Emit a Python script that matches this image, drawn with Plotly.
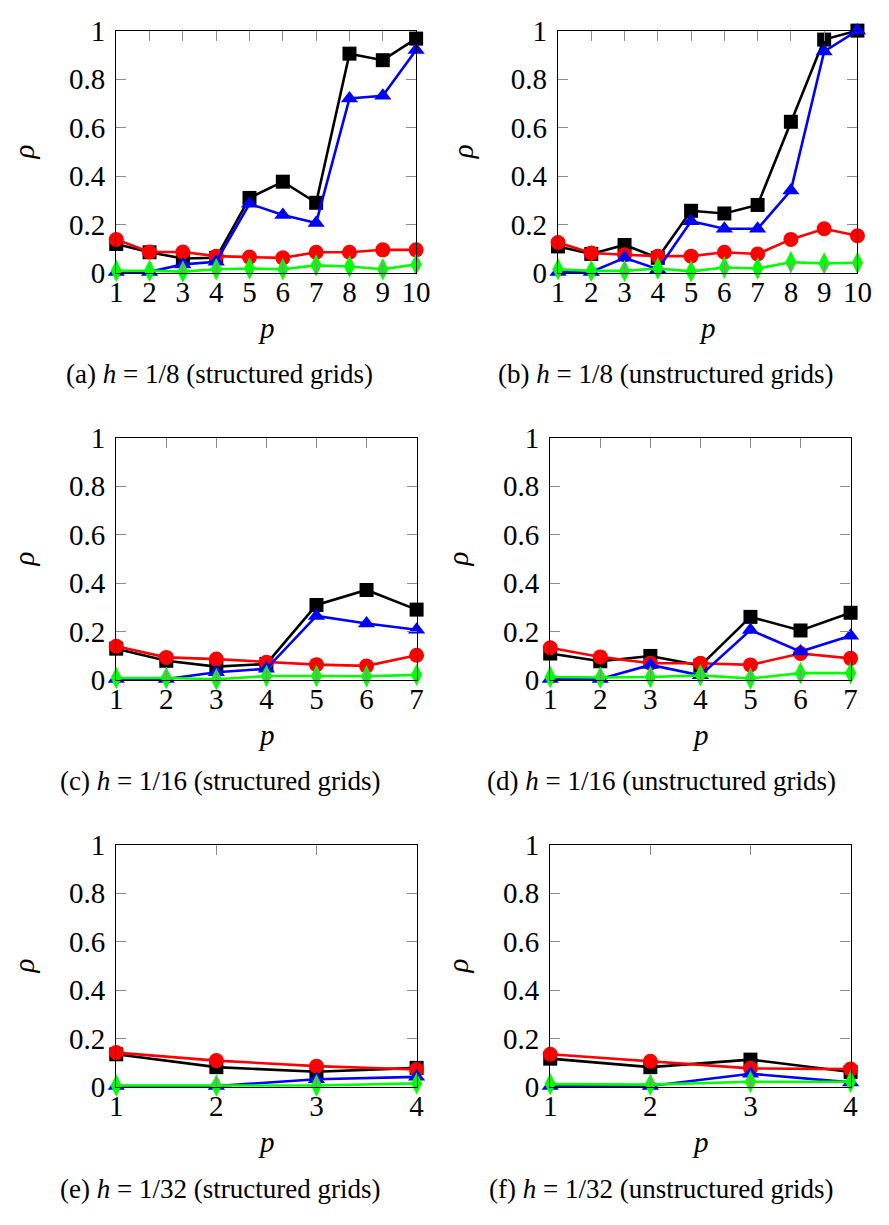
import plotly.graph_objects as go

# ---------------- data ----------------
p10 = [1, 2, 3, 4, 5, 6, 7, 8, 9, 10]
p7 = [1, 2, 3, 4, 5, 6, 7]
p4 = [1, 2, 3, 4]

a_black = [0.12, 0.086, 0.06, 0.063, 0.31, 0.377, 0.29, 0.905, 0.878, 0.967]
a_blue = [0.005, 0.005, 0.036, 0.047, 0.286, 0.24, 0.207, 0.72, 0.731, 0.92]
a_red = [0.139, 0.087, 0.087, 0.07, 0.066, 0.063, 0.086, 0.086, 0.096, 0.096]
a_green = [0.01, 0.01, 0.006, 0.016, 0.019, 0.016, 0.032, 0.027, 0.016, 0.036]

b_black = [0.11, 0.079, 0.116, 0.063, 0.257, 0.246, 0.281, 0.624, 0.963, 1.0]
b_blue = [0.005, 0.005, 0.063, 0.016, 0.214, 0.183, 0.183, 0.341, 0.914, 1.0]
b_red = [0.126, 0.083, 0.076, 0.07, 0.07, 0.086, 0.079, 0.139, 0.183, 0.154]
b_green = [0.016, 0.009, 0.009, 0.019, 0.007, 0.023, 0.019, 0.045, 0.04, 0.043]

c_black = [0.13, 0.08, 0.056, 0.067, 0.31, 0.372, 0.291]
c_blue = [0.005, 0.005, 0.033, 0.047, 0.265, 0.234, 0.208]
c_red = [0.14, 0.094, 0.087, 0.074, 0.064, 0.059, 0.103]
c_green = [0.009, 0.009, 0.004, 0.017, 0.017, 0.016, 0.022]

d_black = [0.11, 0.078, 0.1, 0.06, 0.261, 0.205, 0.278]
d_blue = [0.005, 0.005, 0.063, 0.02, 0.207, 0.118, 0.183]
d_red = [0.134, 0.096, 0.07, 0.07, 0.063, 0.11, 0.09]
d_green = [0.013, 0.011, 0.013, 0.02, 0.007, 0.029, 0.029]

e_black = [0.136, 0.083, 0.064, 0.08]
e_blue = [0.005, 0.005, 0.033, 0.043]
e_red = [0.143, 0.11, 0.087, 0.073]
e_green = [0.007, 0.007, 0.007, 0.016]

f_black = [0.118, 0.083, 0.114, 0.063]
f_blue = [0.005, 0.005, 0.056, 0.02]
f_red = [0.136, 0.107, 0.078, 0.075]
f_green = [0.013, 0.011, 0.023, 0.023]

y_ticks = [0, 0.2, 0.4, 0.6, 0.8, 1]
y_ticktext = ["0", "0.2", "0.4", "0.6", "0.8", "1"]

captions = [
    "(a) <i>h</i> = 1/8 (structured grids)",
    "(b) <i>h</i> = 1/8 (unstructured grids)",
    "(c) <i>h</i> = 1/16 (structured grids)",
    "(d) <i>h</i> = 1/16 (unstructured grids)",
    "(e) <i>h</i> = 1/32 (structured grids)",
    "(f) <i>h</i> = 1/32 (unstructured grids)",
]

panels = [
    (p10, a_black, a_blue, a_red, a_green),
    (p10, b_black, b_blue, b_red, b_green),
    (p7, c_black, c_blue, c_red, c_green),
    (p7, d_black, d_blue, d_red, d_green),
    (p4, e_black, e_blue, e_red, e_green),
    (p4, f_black, f_blue, f_red, f_green),
]

# ---------------- layout geometry (pixels) ----------------
W, H = 889, 1225
# (left, right, top, bottom) of each plot area
boxes = [
    (112, 419.5, 15, 264),
    (565, 872, 15, 264),
    (112, 420, 433, 682),
    (557, 865, 433, 682),
    (112, 420, 851, 1100),
    (557, 865, 851, 1100),
]
caption_x = [218, 675, 218, 671, 218, 671]
ylabel_x = [17, 467, 17, 462, 17, 462]

FONT = "Liberation Serif, Times New Roman, DejaVu Serif, serif"
TICKFONT = dict(family=FONT, size=29, color="black")

fig = go.Figure()

styles = [
    ("black", "square", 14),
    ("red", "circle", 15),
    ("blue", "triangle-up", 15),
    ("#00ff00", "diamond-tall", 16),
]

annotations = []
for i, (xs, blk, blu, red, grn) in enumerate(panels):
    n = i + 1
    xa = "x" if n == 1 else f"x{n}"
    ya = "y" if n == 1 else f"y{n}"
    series = {"black": blk, "red": red, "blue": blu, "#00ff00": grn}
    for color, sym, size in styles:
        fig.add_trace(go.Scatter(
            x=xs, y=series[color], xaxis=xa, yaxis=ya,
            mode="lines+markers", cliponaxis=False, showlegend=False,
            line=dict(color=color, width=2.6),
            marker=dict(symbol=sym, size=size, color=color, line=dict(width=0)),
        ))
    l, r, t, b = boxes[i]
    xdom = [l / W, r / W]
    ydom = [1 - b / H, 1 - t / H]
    axis_common = dict(
        showline=True, linecolor="black", linewidth=1.2, mirror="ticks",
        ticks="inside", ticklen=10, tickwidth=1, tickcolor="#8a8a8a",
        showgrid=False, zeroline=False, tickfont=TICKFONT,
    )
    fig.update_layout(**{
        ("xaxis" if n == 1 else f"xaxis{n}"): dict(
            domain=xdom, anchor=ya, range=[1, len(xs)],
            tickvals=xs, ticktext=[str(v) for v in xs],
            ticklabelstandoff=-7, **axis_common),
        ("yaxis" if n == 1 else f"yaxis{n}"): dict(
            domain=ydom, anchor=xa, range=[0, 1],
            tickvals=y_ticks, ticktext=y_ticktext,
            ticklabelstandoff=4, **axis_common),
    })
    # axis labels
    annotations.append(dict(
        x=(l + r) / 2 / W, y=1 - (b + 56) / H, xref="paper", yref="paper",
        text="<i>p</i>", showarrow=False, xanchor="center", yanchor="middle",
        font=dict(family=FONT, size=29, color="black")))
    annotations.append(dict(
        x=ylabel_x[i] / W, y=1 - (t + b) / 2 / H, xref="paper", yref="paper",
        text="<i>ρ</i>", showarrow=False, xanchor="center", yanchor="middle",
        textangle=-90, font=dict(family=FONT, size=29, color="black")))
    annotations.append(dict(
        x=caption_x[i] / W, y=1 - (b + 104) / H, xref="paper", yref="paper",
        text=captions[i], showarrow=False, xanchor="center", yanchor="middle",
        font=dict(family=FONT, size=27, color="black")))

fig.update_layout(
    width=W, height=H, margin=dict(l=0, r=0, t=0, b=0),
    paper_bgcolor="white", plot_bgcolor="white",
    annotations=annotations,
)

fig.write_html("out.html")
